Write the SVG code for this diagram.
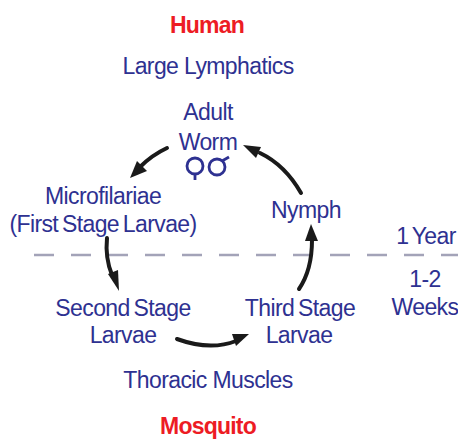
<svg xmlns="http://www.w3.org/2000/svg" width="458" height="439" viewBox="0 0 458 439">
<style>
text{font-family:"Liberation Sans",Arial,sans-serif;font-size:23px;fill:#2e3191;text-anchor:middle;letter-spacing:-.6px;word-spacing:-2px}
.w{word-spacing:0}
.r{fill:#ed1c24;font-weight:bold;letter-spacing:-.8px}
.c{fill:none;stroke:#1a1a1a;stroke-width:4;stroke-linecap:round}
.h{fill:#1a1a1a}
.s{fill:none;stroke:#2e3191;stroke-width:2.8}
</style>
<g id="divider"><line x1="34" y1="255" x2="458" y2="255" stroke="#a3a3b8" stroke-width="2.5" stroke-dasharray="20 17"/></g>
<g id="connectors">
<path class="c" d="M167 148Q152 155 140 167"/><path class="h" d="M130 178L137 161L147 171Z"/>
<path class="c" d="M107 238Q105 258 112 275"/><path class="h" d="M119 291L108 274L118 270Z"/>
<path class="c" d="M177 339Q210 351 236 341"/><path class="h" d="M249 334L232 334L236 346Z"/>
<path class="c" d="M299 289Q312 270 312 240"/><path class="h" d="M311 224L305 241L318 241Z"/>
<path class="c" d="M301 193Q285 165 260 153"/><path class="h" d="M243 145L261 147L256 158Z"/>
</g>
<g id="human"><text class="r" x="207" y="33">Human</text></g>
<g id="large-lymphatics"><text class="w" x="208" y="74">Large Lymphatics</text></g>
<g id="adult-worm"><text x="208" y="120">Adult</text><text x="208" y="150">Worm</text>
<circle class="s" cx="195" cy="166" r="8"/><path class="s" d="M195 174V180"/>
<circle class="s" cx="217" cy="167" r="8"/><path class="s" d="M222 161L229 157"/></g>
<g id="microfilariae"><text x="103" y="204">Microfilariae</text><text x="103" y="232">(First Stage Larvae)</text></g>
<g id="nymph"><text x="306" y="218">Nymph</text></g>
<g id="second-stage"><text x="123" y="316">Second Stage</text><text x="123" y="343">Larvae</text></g>
<g id="third-stage"><text x="300" y="316">Third Stage</text><text x="299" y="343">Larvae</text></g>
<g id="year"><text x="426" y="244">1 Year</text></g>
<g id="weeks"><text x="425" y="287">1-2</text><text x="425" y="315">Weeks</text></g>
<g id="thoracic-muscles"><text class="w" x="208" y="388">Thoracic Muscles</text></g>
<g id="mosquito"><text class="r" x="208" y="434">Mosquito</text></g>
</svg>
